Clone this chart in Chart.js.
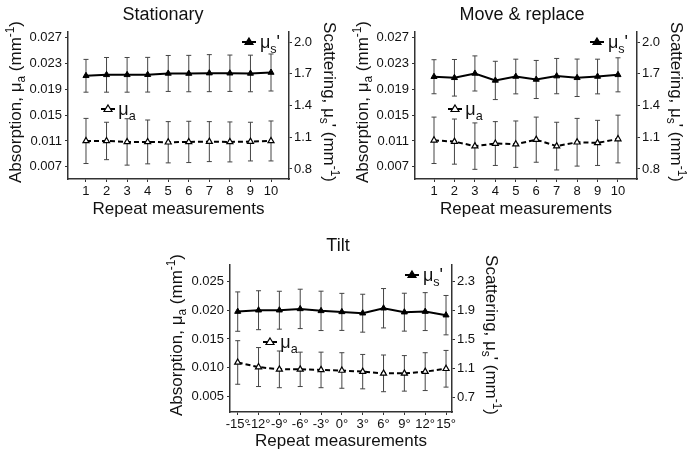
<!DOCTYPE html>
<html>
<head>
<meta charset="utf-8">
<script src="https://cdn.jsdelivr.net/npm/chart.js@4.4.0/dist/chart.umd.min.js"></script>
<style>
  body { margin: 0; background: #fff; width: 694px; height: 458px; position: relative; overflow: hidden; }
  canvas { position: absolute; }
</style>
</head>
<body>
<canvas id="c1" width="345" height="225" style="left:0;top:0"></canvas>
<canvas id="c2" width="349" height="225" style="left:345px;top:0"></canvas>
<canvas id="c3" width="380" height="233" style="left:160px;top:225px"></canvas>
<script>
// x values
const repeats = [1, 2, 3, 4, 5, 6, 7, 8, 9, 10];
const tiltAngles = [-15, -12, -9, -6, -3, 0, 3, 6, 9, 12, 15];

// Stationary
const statMuS = [1.681, 1.690, 1.690, 1.691, 1.703, 1.702, 1.706, 1.705, 1.703, 1.712];
const statMuSErr = [0.155, 0.164, 0.164, 0.164, 0.170, 0.172, 0.175, 0.172, 0.173, 0.175];
const statMuA = [0.0110, 0.0110, 0.01085, 0.01085, 0.0108, 0.01085, 0.0109, 0.01085, 0.0109, 0.0110];
const statMuAErr = [0.0035, 0.0029, 0.0036, 0.0034, 0.0032, 0.0032, 0.0031, 0.0031, 0.0030, 0.0031];

// Move & replace
const moveMuS = [1.672, 1.662, 1.703, 1.637, 1.674, 1.646, 1.678, 1.662, 1.674, 1.690];
const moveMuSErr = [0.161, 0.173, 0.166, 0.181, 0.164, 0.180, 0.167, 0.177, 0.164, 0.161];
const moveMuA = [0.0111, 0.0109, 0.0102, 0.0106, 0.0105, 0.0112, 0.0102, 0.0108, 0.0107, 0.0113];
const moveMuAErr = [0.0036, 0.0035, 0.0036, 0.0034, 0.0036, 0.0035, 0.0037, 0.0037, 0.0035, 0.0037];

// Tilt
const tiltMuS = [1.881, 1.900, 1.900, 1.918, 1.891, 1.877, 1.859, 1.927, 1.873, 1.881, 1.832];
const tiltMuSErr = [0.270, 0.267, 0.260, 0.270, 0.270, 0.254, 0.260, 0.270, 0.260, 0.260, 0.270];
const tiltMuA = [0.0109, 0.0101, 0.0097, 0.0097, 0.0096, 0.0095, 0.0093, 0.0090, 0.0090, 0.0093, 0.0098];
const tiltMuAErr = [0.0038, 0.0034, 0.0032, 0.0030, 0.0031, 0.0031, 0.0030, 0.0032, 0.0031, 0.0033, 0.0032];

// tick labels
const absTicks = [0.007, 0.011, 0.015, 0.019, 0.023, 0.027];
const scatTicks = [0.8, 1.1, 1.4, 1.7, 2.0];
const absTicksTilt = [0.005, 0.010, 0.015, 0.020, 0.025];
const scatTicksTilt = [0.7, 1.1, 1.5, 1.9, 2.3];

const FONT = '"Liberation Sans", Arial, sans-serif';
const AX = '#333';
const TXT = '#111';

// rich text with sub/superscripts
function drawRich(ctx, parts, x, y, size, rot) {
  ctx.save();
  ctx.translate(x, y);
  ctx.rotate(rot || 0);
  ctx.fillStyle = TXT;
  ctx.textBaseline = 'alphabetic';
  ctx.textAlign = 'left';
  let w = 0;
  parts.forEach(p => {
    ctx.font = ((p.sub || p.sup) ? size * 0.7 : size) + 'px ' + FONT;
    w += ctx.measureText(p.t).width;
  });
  let cx = -w / 2;
  parts.forEach(p => {
    const s = (p.sub || p.sup) ? size * 0.7 : size;
    ctx.font = s + 'px ' + FONT;
    const dy = p.sub ? size * 0.25 : p.sup ? -size * 0.4 : 0;
    ctx.fillText(p.t, cx, size * 0.35 + dy);
    cx += ctx.measureText(p.t).width;
  });
  ctx.restore();
}

function legendMark(ctx, x, y, filled) {
  ctx.save();
  ctx.strokeStyle = '#000';
  ctx.lineWidth = 2;
  ctx.beginPath(); ctx.moveTo(x - 7, y); ctx.lineTo(x + 7, y); ctx.stroke();
  ctx.beginPath();
  ctx.moveTo(x, y - 4); ctx.lineTo(x + 4, y + 2.5); ctx.lineTo(x - 4, y + 2.5); ctx.closePath();
  ctx.fillStyle = filled ? '#000' : '#fff';
  ctx.fill();
  ctx.lineWidth = 1.2;
  ctx.stroke();
  ctx.restore();
}

const errorBars = {
  id: 'errorBars',
  beforeDatasetsDraw(chart) {
    const ctx = chart.ctx;
    chart.data.datasets.forEach((ds, i) => {
      const meta = chart.getDatasetMeta(i);
      const ys = chart.scales[ds.yAxisID];
      ctx.save();
      ctx.strokeStyle = '#444';
      ctx.lineWidth = 1;
      meta.data.forEach((pt, j) => {
        const v = ds.data[j].y, e = ds.errors[j];
        const top = ys.getPixelForValue(v + e), bot = ys.getPixelForValue(v - e);
        ctx.beginPath();
        ctx.moveTo(pt.x, top); ctx.lineTo(pt.x, bot);
        ctx.moveTo(pt.x - 2.5, top); ctx.lineTo(pt.x + 2.5, top);
        ctx.moveTo(pt.x - 2.5, bot); ctx.lineTo(pt.x + 2.5, bot);
        ctx.stroke();
      });
      ctx.restore();
    });
  }
};

function makeChart(id, c) {
  const canvas = document.getElementById(id);
  const W = canvas.width, H = canvas.height;
  const textPlugin = {
    id: 'texts' + id,
    afterDraw(chart) {
      const ctx = chart.ctx;
      const a = chart.chartArea;
      ctx.save();
      ctx.fillStyle = TXT;
      ctx.textAlign = 'center';
      ctx.textBaseline = 'alphabetic';
      ctx.font = '18px ' + FONT;
      ctx.fillText(c.title, c.titleX, c.titleY);
      ctx.font = '17px ' + FONT;
      ctx.fillText('Repeat measurements', (a.left + a.right) / 2, c.xTitleY);
      ctx.restore();
      drawRich(ctx, [{ t: 'Absorption, μ' }, { t: 'a', sub: true }, { t: ' (mm' }, { t: '-1', sup: true }, { t: ')' }],
        c.leftTitleX, c.yTitleY, 17, -Math.PI / 2);
      drawRich(ctx, [{ t: 'Scattering, μ' }, { t: 's', sub: true }, { t: "' (mm" }, { t: '-1', sup: true }, { t: ')' }],
        c.rightTitleX, c.yTitleY, 17, Math.PI / 2);
      // inline legends
      const sx = a.right - 40, sy = a.top + 10;
      legendMark(ctx, sx, sy, true);
      drawRich(ctx, [{ t: 'μ' }, { t: 's', sub: true }, { t: "'" }], sx + 21, sy, 18, 0);
      const ax = a.left + 40, ay = a.top + 77;
      legendMark(ctx, ax, ay, false);
      drawRich(ctx, [{ t: 'μ' }, { t: 'a', sub: true }], ax + 19, ay, 18, 0);
    }
  };
  const tickFont = { size: 13, family: FONT };
  return new Chart(canvas, {
    type: 'line',
    data: {
      datasets: [{
        label: "μs'",
        data: c.x.map((v, i) => ({ x: v, y: c.muS[i] })),
        errors: c.muSErr,
        yAxisID: 'y2',
        borderColor: '#000',
        borderWidth: 2,
        pointStyle: 'triangle',
        pointRadius: 3.5,
        pointBackgroundColor: '#000',
        pointBorderColor: '#000',
        pointBorderWidth: 1
      }, {
        label: 'μa',
        data: c.x.map((v, i) => ({ x: v, y: c.muA[i] })),
        errors: c.muAErr,
        yAxisID: 'y',
        borderColor: '#000',
        borderWidth: 2,
        borderDash: [5, 3],
        pointStyle: 'triangle',
        pointRadius: 3.5,
        pointBackgroundColor: '#fff',
        pointBorderColor: '#000',
        pointBorderWidth: 1.2
      }]
    },
    options: {
      responsive: false,
      animation: false,
      layout: { padding: { left: 0, right: 0, top: c.area.top, bottom: 0 } },
      plugins: { legend: { display: false }, tooltip: { enabled: false } },
      scales: {
        x: {
          type: 'linear', min: c.xMin, max: c.xMax,
          afterBuildTicks: s => { s.ticks = c.x.map(v => ({ value: v })); },
          afterFit: s => { s.height = H - c.area.bottom; },
          grid: { drawOnChartArea: false, tickLength: 3, color: AX },
          border: { color: AX, width: 1.5 },
          ticks: { color: TXT, font: tickFont, padding: 2, autoSkip: false, maxRotation: 0, minRotation: 0, callback: c.xFmt }
        },
        y: {
          position: 'left', min: c.aMin, max: c.aMax,
          afterBuildTicks: s => { s.ticks = c.aTicks.map(v => ({ value: v })); },
          afterFit: s => { s.width = c.area.left; },
          grid: { drawOnChartArea: false, tickLength: 3, color: AX },
          border: { color: AX, width: 1.5 },
          ticks: { color: TXT, font: tickFont, padding: 3, callback: v => v.toFixed(3) }
        },
        y2: {
          position: 'right', min: c.sMin, max: c.sMax,
          afterBuildTicks: s => { s.ticks = c.sTicks.map(v => ({ value: v })); },
          afterFit: s => { s.width = W - c.area.right; },
          grid: { drawOnChartArea: false, tickLength: 3, color: AX },
          border: { color: AX, width: 1.5 },
          ticks: { color: TXT, font: tickFont, padding: 2, callback: v => v.toFixed(1) }
        }
      }
    },
    plugins: [errorBars, textPlugin]
  });
}

makeChart('c1', {
  title: 'Stationary', titleX: 163, titleY: 20, xTitleY: 214,
  leftTitleX: 15, rightTitleX: 330, yTitleY: 102,
  area: { left: 68, right: 289, top: 32, bottom: 179 },
  x: repeats, xMin: 0.125, xMax: 10.875, xFmt: v => String(v),
  muS: statMuS, muSErr: statMuSErr, muA: statMuA, muAErr: statMuAErr,
  aMin: 0.0051, aMax: 0.0279, aTicks: absTicks,
  sMin: 0.705, sMax: 2.095, sTicks: scatTicks
});

makeChart('c2', {
  title: 'Move & replace', titleX: 177, titleY: 20, xTitleY: 214,
  leftTitleX: 17, rightTitleX: 332, yTitleY: 102,
  area: { left: 70, right: 292, top: 32, bottom: 179 },
  x: repeats, xMin: 0.07, xMax: 10.93, xFmt: v => String(v),
  muS: moveMuS, muSErr: moveMuSErr, muA: moveMuA, muAErr: moveMuAErr,
  aMin: 0.0051, aMax: 0.0279, aTicks: absTicks,
  sMin: 0.705, sMax: 2.095, sTicks: scatTicks
});

makeChart('c3', {
  title: 'Tilt', titleX: 178, titleY: 26, xTitleY: 221,
  leftTitleX: 16, rightTitleX: 332, yTitleY: 110,
  area: { left: 70, right: 292, top: 40, bottom: 187 },
  x: tiltAngles, xMin: -16.11, xMax: 15.86, xFmt: v => v + '°',
  muS: tiltMuS, muSErr: tiltMuSErr, muA: tiltMuA, muAErr: tiltMuAErr,
  aMin: 0.00226, aMax: 0.0279, aTicks: absTicksTilt,
  sMin: 0.504, sMax: 2.52, sTicks: scatTicksTilt
});
</script>
</body>
</html>
